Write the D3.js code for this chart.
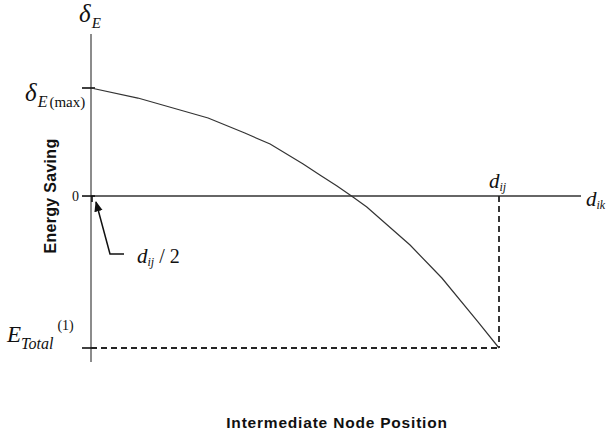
<!DOCTYPE html>
<html><head><meta charset="utf-8">
<script src="https://cdn.jsdelivr.net/npm/d3@7/dist/d3.min.js"></script>
<style>body{margin:0;background:#fff}svg{display:block}</style>
</head><body>
<svg id="c" width="606" height="435"></svg>
<script>
// Normalized position along d_ik (0 = start, 1 = d_ij)
const positions = [0, 0.115, 0.287, 0.377, 0.439, 0.520, 0.561, 0.603, 0.642, 0.676, 0.782, 0.860, 0.949, 1.0];
// Energy saving, relative to delta_E(max) = 1
const savings   = [1.0, 0.907, 0.722, 0.583, 0.481, 0.296, 0.194, 0.093, -0.009, -0.102, -0.454, -0.759, -1.167, -1.407];
const eMax = 1.0, eTotal = -1.407, dij = 1.0;
const xExtent = [0, 1.201];
const yExtent = [-1.537, 1.5];

const svg = d3.select("#c");
const x = d3.scaleLinear().domain([0, 1]).range([91, 499]);
const y = d3.scaleLinear().domain([eTotal, eMax]).range([348, 88]);

// Y axis line
svg.append("line").attr("x1", x(0)).attr("x2", x(0)).attr("y1", y(yExtent[1])).attr("y2", y(yExtent[0]))
  .attr("stroke", "#666").attr("stroke-width", 1.5);
// X axis line
svg.append("line").attr("x1", x(0)).attr("x2", x(xExtent[1])).attr("y1", y(0)).attr("y2", y(0))
  .attr("stroke", "#333").attr("stroke-width", 1.3);

// ticks
const ticks = [eMax, 0, eTotal];
svg.selectAll(".tk").data(ticks).enter().append("line")
  .attr("x1", x(0) - 9).attr("x2", x(0) + 4).attr("y1", d => y(d)).attr("y2", d => y(d))
  .attr("stroke", "#111").attr("stroke-width", 1.6);
svg.append("line").attr("x1", x(0) + 1).attr("x2", x(0) + 1).attr("y1", y(0)).attr("y2", y(0) + 6)
  .attr("stroke", "#111").attr("stroke-width", 1.6);

// dashed lines
svg.append("line").attr("x1", x(0)).attr("x2", x(dij)).attr("y1", y(eTotal)).attr("y2", y(eTotal))
  .attr("stroke", "#222").attr("stroke-width", 1.8).attr("stroke-dasharray", "6,4");
svg.append("line").attr("x1", x(dij)).attr("x2", x(dij)).attr("y1", y(0)).attr("y2", y(eTotal))
  .attr("stroke", "#222").attr("stroke-width", 1.8).attr("stroke-dasharray", "6,4");

// curve
const pts = positions.map((p, i) => [p, savings[i]]);
svg.append("path").datum(pts)
  .attr("d", d3.line().x(d => x(d[0])).y(d => y(d[1])))
  .attr("fill", "none").attr("stroke", "#333").attr("stroke-width", 1.2);

// arrow
svg.append("defs").append("marker").attr("id", "ah").attr("viewBox", "0 0 10 10")
  .attr("refX", 9).attr("refY", 5).attr("markerWidth", 7).attr("markerHeight", 7).attr("orient", "auto")
  .append("path").attr("d", "M0,1 L10,5 L0,9 Z").attr("fill", "#111");
svg.append("polyline").attr("points", `${x(0)+33},254 ${x(0)+19},254 ${x(0)+5},${y(0)+6}`)
  .attr("fill", "none").attr("stroke", "#111").attr("stroke-width", 1.5).attr("marker-end", "url(#ah)");

const serif = "'Liberation Serif','Times New Roman',serif";
function label(xp, yp, parts, anchor) {
  const t = svg.append("text").attr("x", xp).attr("y", yp).attr("font-family", serif).attr("fill", "#111")
    .attr("text-anchor", anchor || "start");
  parts.forEach(p => {
    const s = t.append("tspan").text(p.t).attr("font-size", p.s)
      .attr("font-style", p.i ? "italic" : "normal");
    if (p.dy) s.attr("dy", p.dy);
    if (p.dx) s.attr("dx", p.dx);
  });
  return t;
}
// delta_E top
label(79, 22, [{t: "δ", s: 25, i: 1}, {t: "E", s: 15, i: 1, dy: 6, dx: 1}]);
// delta_E(max)
label(25, 101, [{t: "δ", s: 25, i: 1}, {t: "E", s: 16, i: 1, dy: 6, dx: 1}, {t: "(max)", s: 15, dx: 2}]);
// 0
label(79, 201, [{t: "0", s: 14}], "end");
// E_Total^(1)
label(7, 342, [{t: "E", s: 23, i: 1}, {t: "Total", s: 16, i: 1, dy: 7}, {t: "(1)", s: 14, dy: -19, dx: 4}]);
// d_ij top
label(489, 188, [{t: "d", s: 21, i: 1}, {t: "ij", s: 12, i: 1, dy: 3}]);
// d_ik right
label(586, 206, [{t: "d", s: 21, i: 1}, {t: "ik", s: 12, i: 1, dy: 3}]);
// d_ij / 2
label(137, 263, [{t: "d", s: 21, i: 1}, {t: "ij", s: 12, i: 1, dy: 3}, {t: " / 2", s: 20, dy: -3}]);

// axis titles
svg.append("text").attr("transform", "translate(56,196) rotate(-90)").attr("text-anchor", "middle")
  .attr("font-family", "'Liberation Sans',Arial,sans-serif").attr("font-weight", "bold").attr("font-size", 16)
  .attr("letter-spacing", 0.3).attr("fill", "#111").text("Energy Saving");
svg.append("text").attr("x", 337).attr("y", 428).attr("text-anchor", "middle")
  .attr("font-family", "'Liberation Sans',Arial,sans-serif").attr("font-weight", "bold").attr("font-size", 15.5)
  .attr("letter-spacing", 0.8).attr("fill", "#111").text("Intermediate Node Position");
</script>
</body></html>
